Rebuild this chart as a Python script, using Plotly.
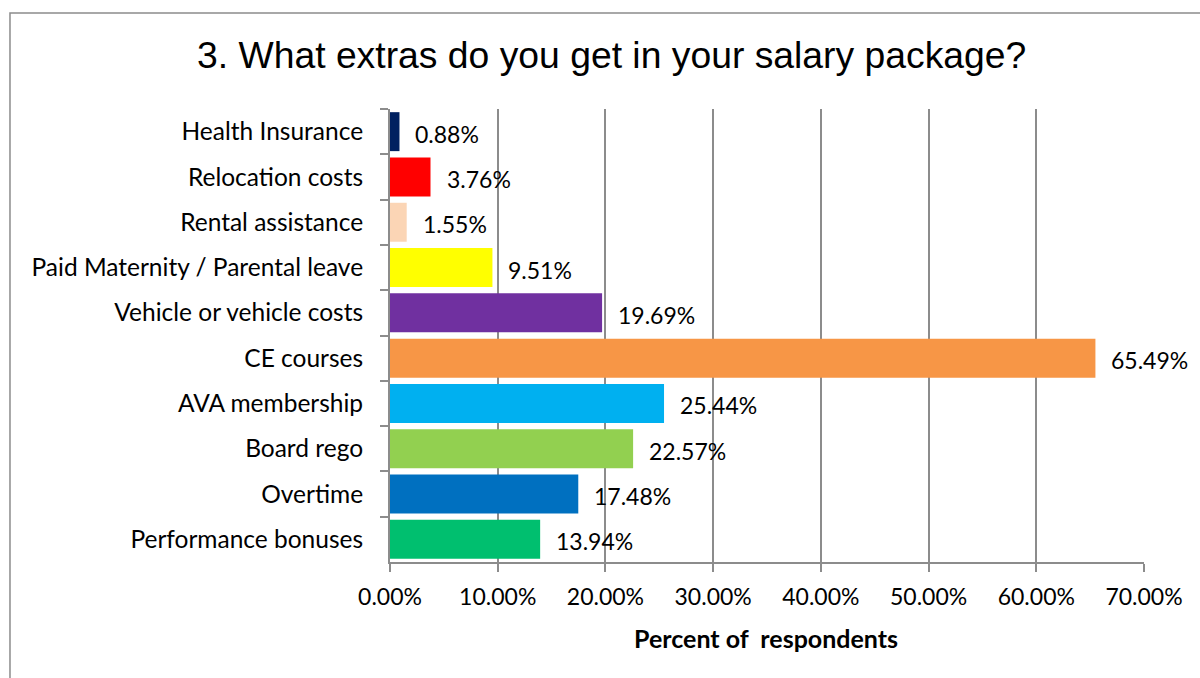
import plotly.graph_objects as go

categories = ["Health Insurance", "Relocation costs", "Rental assistance",
              "Paid Maternity / Parental leave", "Vehicle or vehicle costs",
              "CE courses", "AVA membership", "Board rego", "Overtime",
              "Performance bonuses"]
values = [0.88, 3.76, 1.55, 9.51, 19.69, 65.49, 25.44, 22.57, 17.48, 13.94]
bar_colors = ["#002060", "#FF0000", "#FBD5B5", "#FFFF00", "#7030A0",
              "#F79646", "#00B0F0", "#92D050", "#0070C0", "#00BF6F"]
tick_vals = [0, 10, 20, 30, 40, 50, 60, 70]
tick_text = ["0.00%", "10.00%", "20.00%", "30.00%", "40.00%", "50.00%", "60.00%", "70.00%"]
title_text = "3. What extras do you get in your salary package?"
x_title = "Percent of\u00a0 respondents"

LABEL_FONT = "Lato, 'Open Sans', sans-serif"
GRID = "#8C8C8C"

fig = go.Figure()
fig.add_trace(go.Bar(
    x=values, y=categories, orientation="h",
    marker=dict(color=bar_colors, line=dict(width=0)),
    width=0.86, hoverinfo="x+y",
))

for c, v in zip(categories, values):
    fig.add_annotation(x=v, y=c, xref="x", yref="y", text=f"{v:.2f}%",
                       showarrow=False, xanchor="left", yanchor="middle",
                       xshift=14, yshift=-2,
                       font=dict(family=LABEL_FONT, size=23, color="#000000"))

fig.add_annotation(x=0.294, y=1.119, xref="paper", yref="paper", text=title_text,
                   showarrow=False, xanchor="center", yanchor="middle",
                   font=dict(family="'Liberation Sans', Arial, sans-serif", size=37.3, color="#000000"))
fig.add_annotation(x=0.4987, y=-0.168, xref="paper", yref="paper", text=f"<b>{x_title}</b>",
                   showarrow=False, xanchor="center", yanchor="middle",
                   font=dict(family=LABEL_FONT, size=25, color="#000000"))

# outer chart border
fig.add_shape(type="rect", xref="paper", yref="paper",
              x0=-0.504, x1=1.09, y0=-0.30, y1=1.212,
              line=dict(color="#8C8C8C", width=1.5), fillcolor="rgba(0,0,0,0)", layer="below")

fig.update_layout(
    width=1200, height=678,
    margin=dict(l=390, r=56, t=109, b=116),
    paper_bgcolor="white", plot_bgcolor="white",
    showlegend=False,
    bargap=0.14,
    xaxis=dict(range=[0, 70], tickvals=tick_vals, ticktext=tick_text,
               showgrid=True, gridcolor=GRID, gridwidth=1.5,
               showline=True, linecolor=GRID, linewidth=2,
               ticks="outside", ticklen=8, tickcolor=GRID, tickwidth=2,
               zeroline=False, ticklabelstandoff=5,
               tickfont=dict(family=LABEL_FONT, size=23, color="#000000")),
    yaxis=dict(autorange="reversed", showgrid=False,
               showline=True, linecolor=GRID, linewidth=2,
               ticks="outside", ticklen=8, tickcolor=GRID, tickwidth=2,
               tickson="boundaries", ticklabelstandoff=20,
               tickfont=dict(family=LABEL_FONT, size=24.5, color="#000000")),
)

fig.write_html("out.html")
